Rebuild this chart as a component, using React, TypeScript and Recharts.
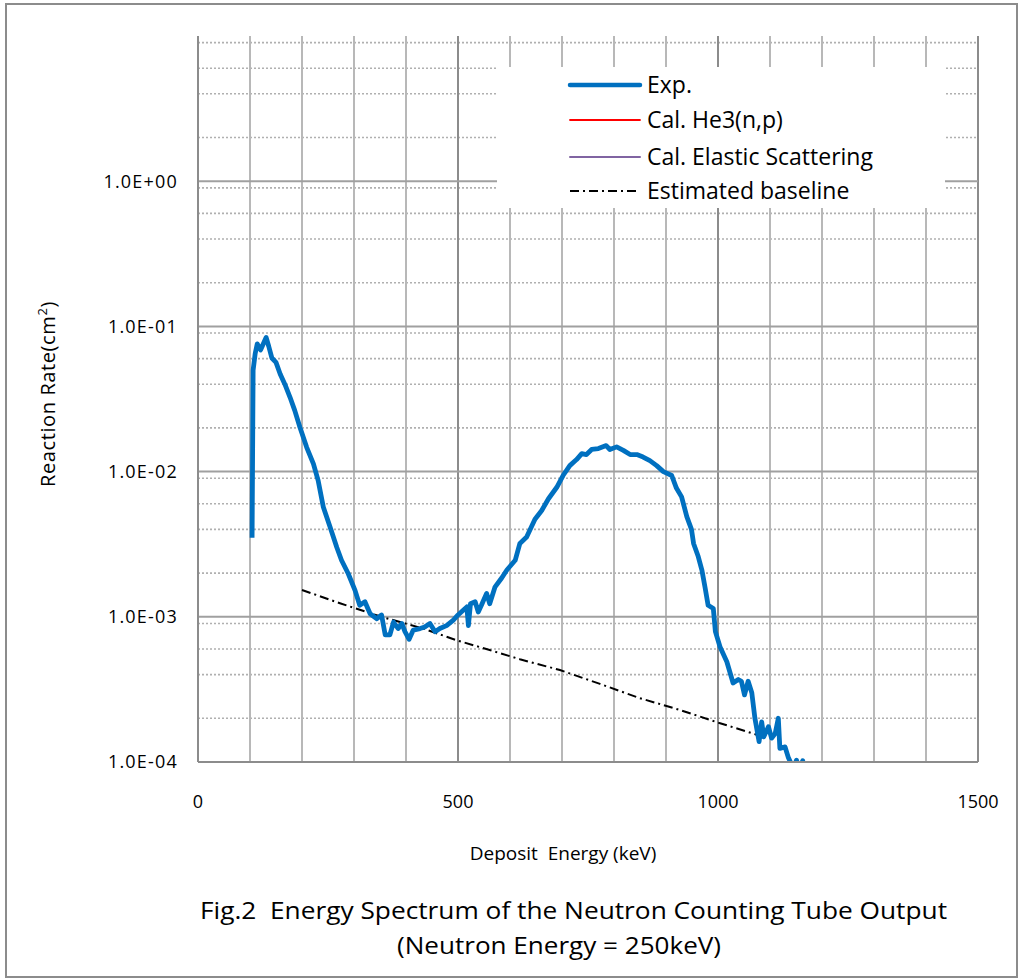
import React from 'react';
import { LineChart, Line, XAxis, YAxis, CartesianGrid, Legend } from 'recharts';

// ---- Data ----
const expEnergy = [
  104, 106, 110, 114, 117, 120.5, 125, 131, 136, 142, 150, 158, 167, 177, 186, 196, 209, 222, 231, 241,
  254, 267, 276, 289, 302, 311, 321, 331, 344, 353, 360, 369, 376, 385, 392, 398, 406, 414, 427, 436,
  446, 456, 465, 478, 491, 500, 510, 517, 520, 524, 533, 539, 545, 555, 561, 571, 584, 594, 610, 619,
  632, 648, 661, 674, 690, 702, 715, 728, 738, 747, 757, 770, 785, 792, 805, 818, 831, 844, 856, 869,
  882, 895, 911, 920, 930, 940, 949, 953, 962, 969, 975, 981, 991, 995, 1004, 1017, 1029, 1039, 1045, 1051,
  1058, 1065, 1071, 1079, 1084, 1088, 1097, 1103, 1110, 1116, 1119, 1129, 1135, 1145, 1151, 1156, 1163, 1165,
];
const expRate = [
  0.0035, 0.05, 0.065, 0.0758, 0.072, 0.0689, 0.075, 0.084, 0.073, 0.0606, 0.0565, 0.047, 0.04, 0.0325, 0.0264, 0.0202, 0.0147, 0.0113, 0.0087, 0.0057,
  0.00415, 0.003, 0.00245, 0.00198, 0.00152, 0.0012, 0.00127, 0.00105, 0.00097, 0.00103, 0.00075, 0.00075, 0.00092, 0.00083, 0.0009, 0.00079, 0.0007, 0.00081, 0.00083, 0.00085,
  0.0009, 0.00079, 0.00083, 0.00087, 0.00095, 0.00103, 0.00111, 0.00117, 0.00087, 0.00123, 0.00127, 0.00108, 0.0012, 0.00145, 0.00123, 0.0016, 0.00185, 0.0021, 0.00245, 0.0032,
  0.00354, 0.0047, 0.0054, 0.0065, 0.0078, 0.0094, 0.011, 0.0121, 0.0133, 0.0131, 0.0142, 0.0144, 0.0151, 0.0142, 0.0148, 0.014, 0.0131, 0.0131, 0.0126, 0.0119,
  0.011, 0.01, 0.0094, 0.0077, 0.0067, 0.0049, 0.004, 0.0032, 0.0026, 0.0021, 0.0016, 0.0012, 0.00114, 0.00079, 0.00062, 0.00049, 0.00035, 0.00037, 0.00036, 0.00029,
  0.00036, 0.0003, 0.0002, 0.000138, 0.000189, 0.000149, 0.000175, 0.000146, 0.000157, 0.0002, 0.000124, 0.000127, 0.000108, 0.00009, 0.000103, 0.00009, 0.000102, 0.00009,
];
const baselineEnergy = [200, 273, 353, 433, 497, 561, 619, 696, 773, 850, 927, 1004, 1085];
const baselineRate = [0.00153, 0.00124, 0.001, 0.00083, 0.00069, 0.00059, 0.00051, 0.00043, 0.000345, 0.000275, 0.000228, 0.000185, 0.00015];
const he3Energy: number[] = [];
const he3Rate: number[] = [];
const elasticEnergy: number[] = [];
const elasticRate: number[] = [];

const xTicks = [0, 500, 1000, 1500];
const yTicks = [1e-4, 1e-3, 1e-2, 1e-1, 1];
const xMinorGrid = [100, 200, 300, 400, 600, 700, 800, 900, 1100, 1200, 1300, 1400];
const xMajorGrid = [500, 1000, 1500];
const yDecadeGrid = [1e-3, 1e-2, 1e-1, 1];
const yDecades = [1e-4, 1e-3, 1e-2, 1e-1, 1];
const yMultipliers = [2, 3, 4, 5, 6, 7, 8, 9];
const yMinorGrid = yDecades.flatMap((d) => yMultipliers.map((m) => +(d * m).toPrecision(3)));

const legendItems = [
  { name: 'Exp.', color: '#0070C0', width: 4.5, dash: undefined as string | undefined },
  { name: 'Cal. He3(n,p)', color: '#FF0000', width: 1.8, dash: undefined },
  { name: 'Cal. Elastic Scattering', color: '#8064A2', width: 2, dash: undefined },
  { name: 'Estimated baseline', color: '#000000', width: 2, dash: '9 4 2 4' },
];

const zip = (xs: number[], ys: number[]) => xs.map((x, i) => ({ x, y: ys[i] }));
const expData = zip(expEnergy, expRate);
const baselineData = zip(baselineEnergy, baselineRate);
const he3Data = zip(he3Energy, he3Rate);
const elasticData = zip(elasticEnergy, elasticRate);

const FONT = "'Open Sans', sans-serif";

const formatSci = (v: number) => {
  const e = Math.round(Math.log10(v));
  const sign = e < 0 ? '-' : '+';
  const abs = Math.abs(e);
  return `1.0E${sign}${abs < 10 ? '0' + abs : abs}`;
};

const LegendContent = () => {
  const rowsY = [18, 53, 90, 124];
  return (
    <svg width={448} height={141} style={{ display: 'block' }}>
      {legendItems.map((it, i) => (
        <g key={it.name}>
          <line
            x1={73}
            x2={143}
            y1={rowsY[i]}
            y2={rowsY[i]}
            stroke={it.color}
            strokeWidth={it.width}
            strokeDasharray={it.dash}
            strokeLinecap={it.dash ? 'butt' : 'round'}
          />
          <text x={150} y={rowsY[i] + 8} fontFamily={FONT} fontSize={23} fill="#000">
            {it.name}
          </text>
        </g>
      ))}
    </svg>
  );
};

export default function App() {
  return (
    <div style={{ position: 'absolute', left: 0, top: 0, width: 1019, height: 979, background: '#fff' }}>
      <LineChart
        width={1019}
        height={979}
        margin={{ top: 36, right: 41, bottom: 157, left: 98 }}
      >
        <CartesianGrid
          vertical={false}
          horizontalValues={yMinorGrid}
          stroke="#b0b0b0"
          strokeWidth={1.6}
          strokeDasharray="2 2"
          fill="none"
        />
        <CartesianGrid horizontal={false} verticalValues={xMinorGrid} stroke="#b8b8b8" strokeWidth={2} fill="none" />
        <CartesianGrid horizontal={false} verticalValues={xMajorGrid} stroke="#8c8c8c" strokeWidth={2} fill="none" />
        <CartesianGrid vertical={false} horizontalValues={yDecadeGrid} stroke="#a0a0a0" strokeWidth={2} fill="none" />
        <XAxis
          type="number"
          dataKey="x"
          domain={[0, 1500]}
          ticks={xTicks}
          height={60}
          axisLine={{ stroke: '#8c8c8c', strokeWidth: 2 }}
          tickLine={false}
          tickSize={0}
          tickMargin={33}
          tick={{ fontFamily: FONT, fontSize: 18, fill: '#000' }}
          allowDataOverflow
        />
        <YAxis
          type="number"
          scale="log"
          domain={[1e-4, 10]}
          ticks={yTicks}
          width={100}
          allowDataOverflow
          axisLine={{ stroke: '#8c8c8c', strokeWidth: 2 }}
          tickLine={false}
          tickSize={0}
          tickMargin={20}
          tickFormatter={formatSci}
          tick={{ fontFamily: FONT, fontSize: 18, fill: '#000', letterSpacing: 1.2 }}
        />
        <Legend
          layout="vertical"
          align="center"
          verticalAlign="middle"
          content={LegendContent}
          wrapperStyle={{ position: 'absolute', left: 497, top: 67, width: 448, height: 141, background: '#fff' }}
        />
        <Line
          name="Estimated baseline"
          data={baselineData}
          dataKey="y"
          type="linear"
          stroke="#000"
          strokeWidth={2}
          strokeDasharray="9 4 2 4"
          dot={false}
          isAnimationActive={false}
        />
        <Line name="Cal. He3(n,p)" data={he3Data} dataKey="y" stroke="#FF0000" strokeWidth={1.8} dot={false} isAnimationActive={false} />
        <Line name="Cal. Elastic Scattering" data={elasticData} dataKey="y" stroke="#8064A2" strokeWidth={2} dot={false} isAnimationActive={false} />
        <Line
          name="Exp."
          data={expData}
          dataKey="y"
          type="linear"
          stroke="#0070C0"
          strokeWidth={4.8}
          strokeLinejoin="round"
          dot={false}
          isAnimationActive={false}
        />
      </LineChart>
      <svg
        width={1019}
        height={979}
        style={{ position: 'absolute', left: 0, top: 0, pointerEvents: 'none' }}
      >
        <rect x={6} y={4} width={1011} height={973} fill="none" stroke="#8c8c8c" strokeWidth={2} />
        <text
          transform="translate(55,394) rotate(-90)"
          textAnchor="middle"
          fontFamily={FONT}
          fontSize={20}
          letterSpacing={0.6}
          fill="#000"
        >
          Reaction Rate(cm<tspan dy={-8} fontSize={13}>2</tspan><tspan dy={8}>)</tspan>
        </text>
        <text
          x={563}
          y={860}
          textAnchor="middle"
          fontFamily={FONT}
          fontSize={19}
          fill="#000"
          style={{ whiteSpace: 'pre' }}
        >
          {'Deposit  Energy (keV)'}
        </text>
        <text
          x={200}
          y={919}
          fontFamily={FONT}
          fontSize={24}
          fill="#000"
          textLength={747}
          lengthAdjust="spacingAndGlyphs"
          style={{ whiteSpace: 'pre' }}
        >
          {'Fig.2  Energy Spectrum of the Neutron Counting Tube Output'}
        </text>
        <text
          x={397}
          y={954}
          fontFamily={FONT}
          fontSize={24}
          fill="#000"
          textLength={324}
          lengthAdjust="spacingAndGlyphs"
        >
          (Neutron Energy = 250keV)
        </text>
      </svg>
    </div>
  );
}
